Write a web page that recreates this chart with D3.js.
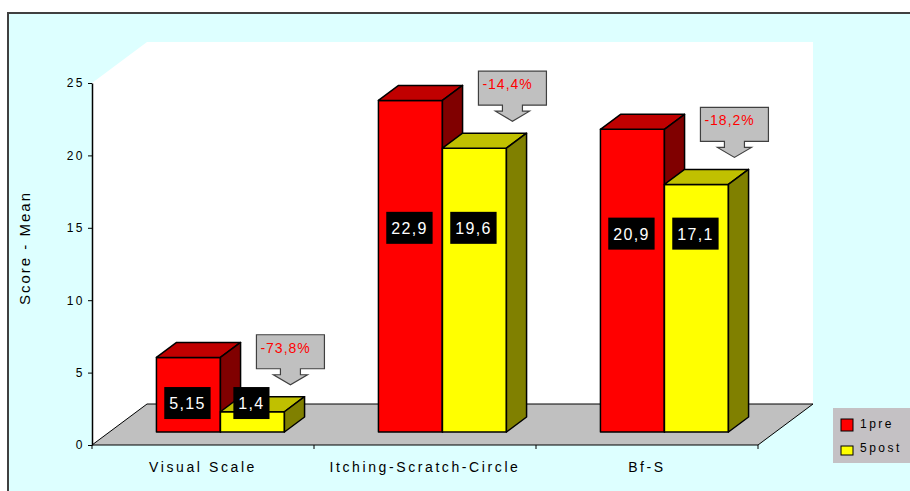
<!DOCTYPE html>
<html>
<head>
<meta charset="utf-8">
<script src="https://cdn.jsdelivr.net/npm/d3@7"></script>
<style>
body { margin: 0; background: #ffffff; }
svg { display: block; font-family: Arial, "Liberation Sans", sans-serif; }
</style>
</head>
<body>
<svg id="chart" width="910" height="491"></svg>
<script>
var categories = ["Visual Scale", "Itching-Scratch-Circle", "Bf-S"];
var seriesNames = ["1pre", "5post"];
var preValues = [5.15, 22.9, 20.9];
var postValues = [1.4, 19.6, 17.1];
var preLabels = ["5,15", "22,9", "20,9"];
var postLabels = ["1,4", "19,6", "17,1"];
var changeLabels = ["-73,8%", "-14,4%", "-18,2%"];
var yTicks = [0, 5, 10, 15, 20, 25];

// height (in score units) where the black value boxes sit in each group
var labelLevel = [2, 14.1, 13.7];

var svg = d3.select("#chart");

// 3d box: front plane + a depth vector
var plotLeft = 92, plotRight = 758, plotBase = 445, plotTop = 83;
var depthX = 55, depthY = -41;
var barFront = 0.317, barBack = 0.683;

var x = d3.scaleBand().domain(categories).range([plotLeft, plotRight]);
var bw = x.bandwidth();
var xs = d3.scaleBand().domain(seriesNames).range([(bw - 128) / 2, (bw + 128) / 2]);
var y = d3.scaleLinear().domain([0, 25]).range([plotBase, plotTop]);

function pt(px, v, f) {
    return [px + f * depthX, y(v) + f * depthY];
}

function poly(points) {
    return "M" + points.map(function(p) { return p[0] + "," + p[1]; }).join("L") + "Z";
}

// frame
svg.append("rect")
    .attr("x", 8).attr("y", 13)
    .attr("width", 960).attr("height", 540)
    .attr("fill", "#ddffff")
    .attr("stroke", "#404040")
    .attr("stroke-width", 2);

// walls
svg.append("path")
    .attr("d", poly([pt(plotLeft, 0, 0), pt(plotLeft, 25, 0), pt(plotLeft, 25, 1), pt(plotRight, 25, 1), pt(plotRight, 0, 1), pt(plotLeft, 0, 1)]))
    .attr("fill", "#ffffff");

// floor
svg.append("path")
    .attr("d", poly([pt(plotLeft, 0, 0), pt(plotRight, 0, 0), pt(plotRight, 0, 1), pt(plotLeft, 0, 1)]))
    .attr("fill", "#c0c0c0")
    .attr("stroke", "#000000")
    .attr("stroke-width", 1);

// y axis
var yAxis = svg.append("g")
    .attr("transform", "translate(" + plotLeft + ",0)")
    .call(d3.axisLeft(y).tickValues(yTicks).tickSize(4).tickSizeOuter(0).tickPadding(3));
yAxis.select(".domain").attr("stroke", "#000000").attr("stroke-width", 1.5);
yAxis.selectAll(".tick line").attr("stroke", "#000000");
yAxis.selectAll(".tick text")
    .attr("font-size", 12)
    .attr("font-family", "Arial, 'Liberation Sans', sans-serif")
    .attr("letter-spacing", "2.5px")
    .attr("fill", "#000000");

svg.append("text")
    .attr("transform", "translate(30,248) rotate(-90)")
    .attr("text-anchor", "middle")
    .attr("font-size", 15)
    .attr("letter-spacing", "2px")
    .text("Score - Mean");

// x axis ticks and labels
var bounds = categories.map(function(c) { return x(c); }).concat([plotRight]);
bounds.forEach(function(b) {
    svg.append("line")
        .attr("x1", b).attr("x2", b)
        .attr("y1", plotBase).attr("y2", plotBase + 4)
        .attr("stroke", "#000000");
});
categories.forEach(function(c) {
    svg.append("text")
        .attr("x", x(c) + bw / 2)
        .attr("y", 472)
        .attr("text-anchor", "middle")
        .attr("font-size", 14)
        .attr("letter-spacing", "2.6px")
        .text(c);
});

// bars
function drawBar(xl, xr, v, colors) {
    var g = svg.append("g")
        .attr("stroke", "#000000")
        .attr("stroke-width", 1.5)
        .attr("stroke-linejoin", "round");
    g.append("path")
        .attr("d", poly([pt(xl, v, barFront), pt(xr, v, barFront), pt(xr, 0, barFront), pt(xl, 0, barFront)]))
        .attr("fill", colors[0]);
    g.append("path")
        .attr("d", poly([pt(xl, v, barFront), pt(xl, v, barBack), pt(xr, v, barBack), pt(xr, v, barFront)]))
        .attr("fill", colors[1]);
    g.append("path")
        .attr("d", poly([pt(xr, v, barFront), pt(xr, v, barBack), pt(xr, 0, barBack), pt(xr, 0, barFront)]))
        .attr("fill", colors[2]);
}

var redFaces = ["#ff0000", "#c00000", "#800000"];
var yellowFaces = ["#ffff00", "#c0c000", "#808000"];

categories.forEach(function(c, i) {
    var xa = x(c) + xs("1pre");
    var xb = x(c) + xs("5post");
    drawBar(xa, xa + xs.bandwidth(), preValues[i], redFaces);
    drawBar(xb, xb + xs.bandwidth(), postValues[i], yellowFaces);
});

// value boxes
function valueBox(cx, cy, label) {
    var t = svg.append("text")
        .attr("x", cx)
        .attr("y", cy + 6)
        .attr("text-anchor", "middle")
        .attr("font-size", 16)
        .attr("letter-spacing", "1.3px")
        .attr("fill", "#ffffff")
        .text(label);
    var w = t.node().getComputedTextLength() + 10;
    svg.insert("rect", function() { return t.node(); })
        .attr("x", cx - w / 2)
        .attr("y", cy - 16)
        .attr("width", w)
        .attr("height", 32)
        .attr("fill", "#000000");
}

categories.forEach(function(c, i) {
    var ly = y(labelLevel[i]) + barFront * depthY;
    var fx = barFront * depthX;
    valueBox(x(c) + xs("1pre") + xs.bandwidth() / 2 + fx - 1, ly, preLabels[i]);
    valueBox(x(c) + xs("5post") + xs.bandwidth() / 2 + fx - 1, ly, postLabels[i]);
});

// change callouts
categories.forEach(function(c, i) {
    var cx = x(c) + xs("5post") + xs.bandwidth() + barFront * depthX + 6;
    var top = y(postValues[i]) + barFront * depthY - 77;
    var left = cx - 34, right = cx + 34, bottom = top + 34;
    var d = "M" + left + "," + top + "H" + right + "V" + bottom +
        "H" + (cx + 10) + "V" + (bottom + 6) + "H" + (cx + 17) +
        "L" + cx + "," + (bottom + 16) + "L" + (cx - 17) + "," + (bottom + 6) +
        "H" + (cx - 10) + "V" + bottom + "H" + left + "Z";
    svg.append("path")
        .attr("d", d)
        .attr("fill", "#c0c0c0")
        .attr("stroke", "#404040")
        .attr("stroke-width", 1.2);
    svg.append("text")
        .attr("x", left + 4)
        .attr("y", top + 18)
        .attr("font-size", 14)
        .attr("letter-spacing", "1px")
        .attr("fill", "#ff0000")
        .text(changeLabels[i]);
});

// legend
var legendColors = ["#ff0000", "#ffff00"];
svg.append("rect")
    .attr("x", 833).attr("y", 408)
    .attr("width", 100).attr("height", 55)
    .attr("fill", "#c4c1c4");
seriesNames.forEach(function(s, i) {
    svg.append("rect")
        .attr("x", 841).attr("y", 419 + i * 27)
        .attr("width", 12).attr("height", i == 0 ? 12 : 9)
        .attr("fill", legendColors[i])
        .attr("stroke", "#000000");
    svg.append("text")
        .attr("x", 860).attr("y", 428 + i * 24)
        .attr("font-size", 12)
        .attr("letter-spacing", "2.5px")
        .text(s);
});
</script>
</body>
</html>
